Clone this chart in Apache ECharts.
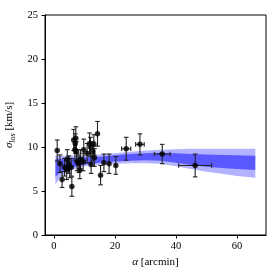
<!DOCTYPE html>
<html><head><meta charset="utf-8">
<script src="https://cdn.jsdelivr.net/npm/echarts@6/dist/echarts.min.js"></script>
<style>html,body{margin:0;padding:0;background:#fff}#c{width:280px;height:280px}</style>
</head><body><div id="c"></div>
<script>
// data points: alpha [arcmin], sigma [km/s], errors
var alphaVals = [1.1,2.0,2.7,3.5,4.2,4.4,4.9,5.2,5.7,5.9,6.5,6.9,7.0,7.2,7.4,7.6,8.2,8.5,8.7,9.6,9.8,10.9,11.7,12.0,12.2,12.8,13.1,13.3,14.3,15.3,16.4,18.1,20.3,23.7,28.2,35.5,46.3];
var sigmaVals = [9.6,8.1,6.3,7.7,7.4,8.6,8.0,7.6,7.7,5.5,10.8,9.7,10.4,11.0,9.5,8.3,8.1,7.4,8.6,8.3,9.7,9.3,10.4,10.0,8.0,9.5,10.3,8.8,11.5,6.8,8.2,8.1,7.9,9.8,10.3,9.2,7.9];
var alphaErr = [0.3,0.3,0.3,0.3,0.3,0.3,0.3,0.3,0.3,0.3,0.3,0.3,0.3,0.3,0.3,0.3,0.3,0.3,0.3,0.3,0.3,0.3,0.3,0.3,0.3,0.3,0.3,0.3,0.3,0.3,0.3,0.3,0.3,1.5,1.4,2.6,5.4];
var sigmaErr = [1.2,1.0,0.9,1.0,1.1,1.1,1.0,1.1,1.0,1.1,1.2,1.2,1.1,1.3,1.1,1.0,1.0,1.0,1.1,1.0,1.2,1.1,1.2,1.1,1.0,1.1,1.1,1.0,1.4,1.1,1.0,1.1,1.0,1.3,1.2,1.1,1.3];
// model bands
var bandX = [0.5,2,5,10,15,20,25,30,35,40,45,50,55,60,66];
var outerLow = [5.7,6.5,7.3,7.8,8.0,8.1,8.15,8.15,8.1,7.8,7.5,7.2,6.95,6.7,6.5];
var outerHigh = [9.0,9.0,9.0,9.05,9.15,9.3,9.45,9.6,9.7,9.75,9.8,9.8,9.8,9.8,9.8];
var innerLow = [6.6,7.1,7.6,8.0,8.2,8.35,8.45,8.5,8.45,8.2,7.95,7.75,7.6,7.5,7.4];
var innerHigh = [8.6,8.65,8.7,8.8,8.9,9.05,9.2,9.3,9.35,9.3,9.2,9.15,9.1,9.05,9.0];
var xTicks = [0,20,40,60];

var FONT = 'Liberation Serif';
var chart = echarts.init(document.getElementById('c'), null, {renderer:'canvas'});

function bandSeries(low, high, color) {
  return {
    type:'custom', silent:true, z:1,
    data:[[bandX[0], low[0]]],
    renderItem:function(params, api){
      var pts = [];
      for (var i=0;i<bandX.length;i++) pts.push(api.coord([bandX[i], high[i]]));
      for (var j=bandX.length-1;j>=0;j--) pts.push(api.coord([bandX[j], low[j]]));
      return {type:'polygon', shape:{points:pts}, style:{fill:color, stroke:null}};
    }
  };
}

var errData = alphaVals.map(function(a,i){return [a, sigmaVals[i], alphaErr[i], sigmaErr[i]];});

chart.setOption({
  animation:false,
  backgroundColor:'#fff',
  grid:{left:45,right:14,top:15,bottom:45,show:true,borderColor:'#000',borderWidth:1,backgroundColor:'transparent',containLabel:false,outerBoundsMode:'none'},
  xAxis:{type:'value',min:-2.9,max:69.5,
    name:'{i|α} [arcmin]',nameLocation:'middle',nameGap:22,
    nameTextStyle:{fontFamily:FONT,fontSize:11,color:'#000',rich:{i:{fontFamily:FONT,fontStyle:'italic',fontSize:11,color:'#000'}}},
    axisLine:{onZero:false,lineStyle:{color:'#000',width:1}},
    axisTick:{show:true,length:3.5,inside:false,customValues:xTicks,lineStyle:{color:'#000'}},
    axisLabel:{customValues:xTicks,fontFamily:FONT,fontSize:10.5,color:'#000',margin:6},
    splitLine:{show:false}},
  yAxis:{type:'value',min:0,max:25,interval:5,
    name:'{i|σ}{s|los} [km/s]',nameLocation:'middle',nameGap:19,
    nameTextStyle:{fontFamily:FONT,fontSize:11,color:'#000',rich:{i:{fontFamily:FONT,fontStyle:'italic',fontSize:11,color:'#000'},s:{fontFamily:FONT,fontStyle:'italic',fontSize:8,color:'#000',verticalAlign:'bottom',padding:[6,0,0,0]}}},
    axisLine:{onZero:false,lineStyle:{color:'#000',width:1}},
    axisTick:{show:true,length:3.5,inside:false,lineStyle:{color:'#000'}},
    axisLabel:{fontFamily:FONT,fontSize:10.5,color:'#000',margin:7},
    splitLine:{show:false}},
  series:[
    bandSeries(outerLow, outerHigh, 'rgba(0,0,255,0.3)'),
    bandSeries(innerLow, innerHigh, 'rgba(0,0,255,0.5)'),
    {type:'custom', z:3, silent:true, data:errData,
      renderItem:function(params, api){
        var x=api.value(0), y=api.value(1), ex=api.value(2), ey=api.value(3);
        var top=api.coord([x,y+ey]), bot=api.coord([x,y-ey]);
        var lft=api.coord([x-ex,y]), rgt=api.coord([x+ex,y]);
        var c=2.3, st={stroke:'#222',lineWidth:1.1};
        var ch=[
          {type:'line',shape:{x1:top[0],y1:top[1],x2:bot[0],y2:bot[1]},style:st},
          {type:'line',shape:{x1:top[0]-c,y1:top[1],x2:top[0]+c,y2:top[1]},style:st},
          {type:'line',shape:{x1:bot[0]-c,y1:bot[1],x2:bot[0]+c,y2:bot[1]},style:st},
          {type:'line',shape:{x1:lft[0],y1:lft[1],x2:rgt[0],y2:rgt[1]},style:st}
        ];
        if (rgt[0]-lft[0] > 3) {
          ch.push({type:'line',shape:{x1:lft[0],y1:lft[1]-c,x2:lft[0],y2:lft[1]+c},style:st});
          ch.push({type:'line',shape:{x1:rgt[0],y1:rgt[1]-c,x2:rgt[0],y2:rgt[1]+c},style:st});
        }
        return {type:'group',children:ch};
      }},
    {type:'scatter', z:4, silent:true, symbol:'circle', symbolSize:5.5,
      itemStyle:{color:'#000'},
      data:alphaVals.map(function(a,i){return [a, sigmaVals[i]];})}
  ]
});
</script></body></html>
